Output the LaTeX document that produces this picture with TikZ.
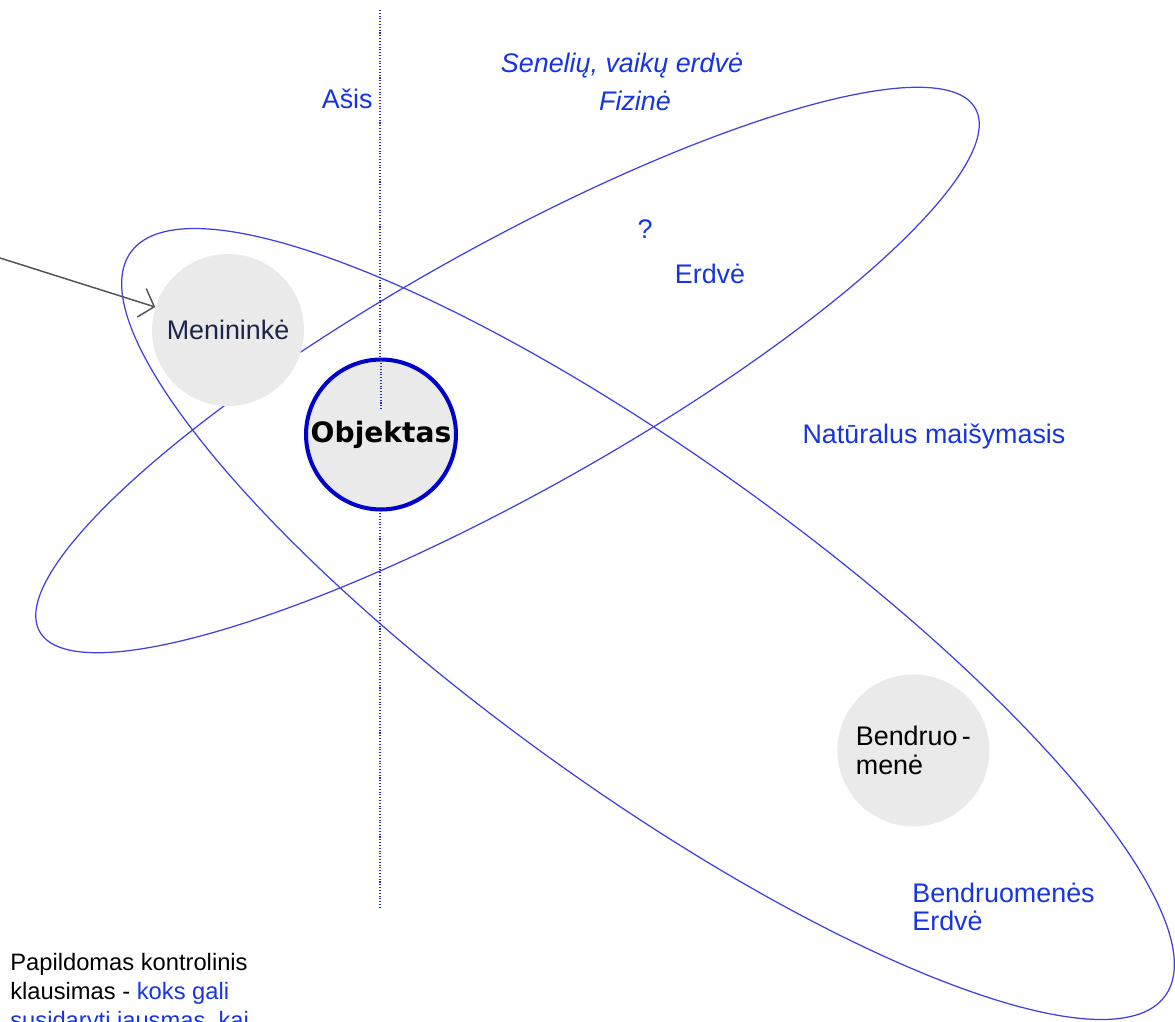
\documentclass[tikz,border=0pt]{standalone}
\usepackage{fontspec}
\setmainfont{Liberation Sans}
\newfontfamily\storas{DejaVu Sans}
\usepackage{xcolor}
\usepackage{tikz}
\usetikzlibrary{positioning}
\usetikzlibrary{arrows.meta}
\definecolor{elipse}{RGB}{62,62,228}
\definecolor{mele}{RGB}{22,52,226}
\definecolor{krastas}{RGB}{0,0,205}
\definecolor{pilka}{RGB}{234,234,234}
\definecolor{tamsi}{RGB}{28,36,72}
\definecolor{rodykle}{RGB}{85,85,85}
\definecolor{asiesspalva}{RGB}{40,40,200}

\begin{document}
\begin{tikzpicture}[x=0.02cm, y=-0.02cm, font=\fontsize{15.3}{16.5}\selectfont,
		ratas/.style={circle, fill=pilka, minimum size=3.04cm, inner sep=0pt, align=left},
		zyme/.style={text=mele, inner sep=0pt, anchor=base},
		elips/.style={draw=elipse, line width=0.7pt},
		asine/.style={draw=asiesspalva, densely dotted, line width=0.6pt}]
		\useasboundingbox (0,0) rectangle (1175,1021);
		\draw[elips] (507.5,370) ellipse [x radius=536, y radius=123, rotate=29.2];
		\draw[elips] (648,624) ellipse [x radius=637, y radius=166, rotate=-35.7];
		\coordinate (asvirsus) at (380,10);
		\coordinate (asapacia) at (380,908);
		\path[asine] (asvirsus) -- (asapacia);
		\node[ratas, draw=krastas, line width=2.3pt, minimum size=3cm] (objektas) at (381,434.5) {\storas\bfseries\fontsize{16}{18}\selectfont Objektas};
		\path[asine] (objektas.north) -- ++(0,51);
		\node[ratas, text=tamsi, on grid, above left=2.09cm and 3.06cm of objektas] (menininke) {Menininkė};
		\node[ratas, on grid, below right=6.32cm and 10.65cm of objektas] (bendruomene) {Bendruo\,-\\menė};
		\coordinate (rodpradzia) at (0,258);
		\path[draw=rodykle, -{Straight Barb[length=7.5pt, width=17pt]}, line width=0.85pt] (rodpradzia) -- (menininke);
		\node[zyme, anchor=base east] (asis) at (373,108) {Ašis};
		\node[zyme] (seneliai) at (622,72) {\itshape Senelių, vaikų erdvė};
		\node[zyme] (fizine) at (635,110) {\itshape Fizinė};
		\node[zyme] (klaustukas) at (645,238) {?};
		\node[zyme] (erdve) at (710,283) {Erdvė};
		\node[zyme] (maisymas) at (934,443) {Natūralus maišymasis};
		\node[zyme, anchor=base west] (bendrerdve) at (912,902) {Bendruomenės};
		\node[zyme, below=0.56cm of bendrerdve.base west, anchor=base west] (bendrerdve2) {Erdvė};
		\node[inner sep=0pt, anchor=base west, font=\fontsize{13.5}{16}\selectfont] (papild) at (10,970) {Papildomas kontrolinis};
		\node[inner sep=0pt, font=\fontsize{13.5}{16}\selectfont, below=0.58cm of papild.base west, anchor=base west] (papild2) {klausimas - \textcolor{mele}{koks gali}};
		\node[zyme, font=\fontsize{13.5}{16}\selectfont, below=0.58cm of papild2.base west, anchor=base west] (papild3) {susidaryti jausmas, kai};
	\end{tikzpicture}
\end{document}
